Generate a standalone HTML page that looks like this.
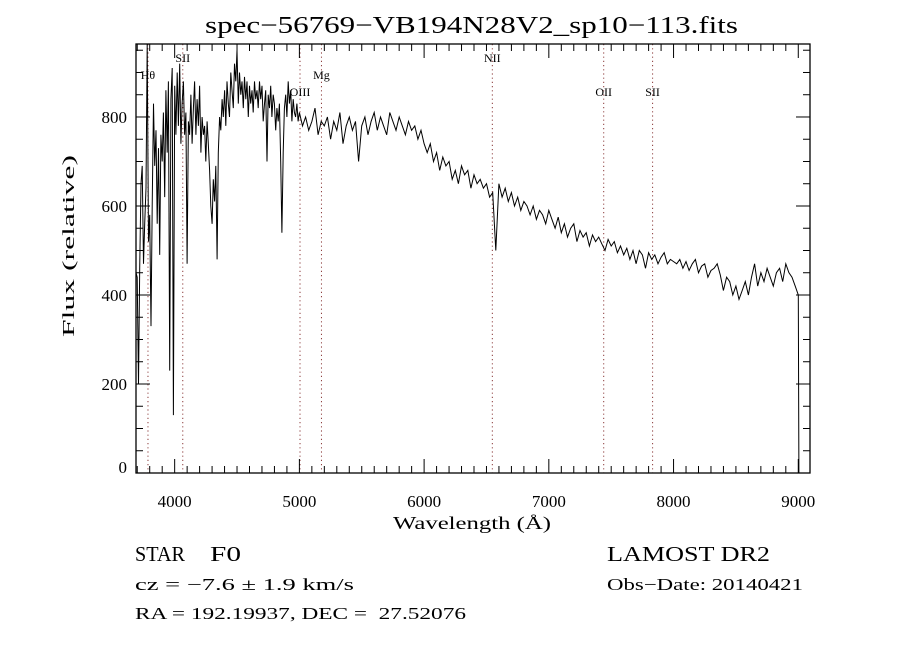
<!DOCTYPE html>
<html><head><meta charset="utf-8"><style>
html,body{margin:0;padding:0;background:#fff;}
svg{display:block;}
text{font-family:"Liberation Serif","DejaVu Serif",serif;fill:#000;}
</style></head><body>
<svg id="chart" width="900" height="650" viewBox="0 0 900 650" xmlns="http://www.w3.org/2000/svg">
<rect x="0" y="0" width="900" height="650" fill="#fff"/>
<text x="205" y="33" font-size="24" textLength="533" lengthAdjust="spacingAndGlyphs">spec−56769−VB194N28V2_sp10−113.fits</text>
<g id="lines"></g>
<g id="ticks"></g>
<path id="spec" fill="none" stroke="#000" stroke-width="1"/>
<rect x="136" y="44" width="674" height="429" fill="none" stroke="#000" stroke-width="1.3"/>
<text x="393" y="529" font-size="18" textLength="158" lengthAdjust="spacingAndGlyphs">Wavelength (Å)</text>
<text transform="translate(74,337) rotate(-90)" font-size="17" textLength="182" lengthAdjust="spacingAndGlyphs">Flux (relative)</text>
<text x="135" y="561" font-size="21" textLength="50" lengthAdjust="spacingAndGlyphs">STAR</text>
<text x="210" y="561" font-size="21" textLength="31" lengthAdjust="spacingAndGlyphs">F0</text>
<text x="607" y="561" font-size="21" textLength="163" lengthAdjust="spacingAndGlyphs">LAMOST DR2</text>
<text x="135" y="590" font-size="17" textLength="219" lengthAdjust="spacingAndGlyphs">cz = −7.6 ± 1.9 km/s</text>
<text x="607" y="590" font-size="17" textLength="196" lengthAdjust="spacingAndGlyphs">Obs−Date: 20140421</text>
<text x="135" y="619" font-size="17" textLength="331" lengthAdjust="spacingAndGlyphs">RA = 192.19937, DEC = &#160;27.52076</text>
</svg>
<script>
const blueStart = 3690, blueStep = 10;
const blueFlux = [450,440,200,460,650,690,470,560,640,990,520,580,330,600,830,690,770,560,730,490,760,700,810,620,860,720,880,230,840,910,130,870,760,900,780,920,740,830,880,760,810,470,790,760,850,740,820,880,760,840,780,870,720,800,760,780,700,790,740,680,600,560,660,610,690,480,720,800,770,840,800,860,780,880,830,800,900,860,820,920,880,950,830,900,850,880,820,890,840,880,800,870,830,860,810,880,840,860,820,880,840,870,790,830,860,700,850,820,870,800,850,830,770,820,790,830,700,540,720,820,850,800,880,830,860,790,840,810,800,830,790];
const redStart = 5000, redStep = 25;
const redFlux = [810,780,800,770,790,820,760,790,780,800,750,790,770,810,740,780,800,770,790,700,780,800,760,790,810,770,800,780,760,810,790,770,800,780,760,790,770,
780,750,770,740,720,740,700,720,680,710,690,700,660,680,650,690,670,680,640,670,650,660,640,650,620,630,
500,
650,620,640,610,630,600,620,590,610,600,580,600,570,590,580,560,590,
570,550,575,540,560,530,550,560,520,545,530,540,510,535,520,530,515,500,525,510,
520,495,510,490,505,480,500,470,500,490,460,495,480,490,470,485,495,470,480,475,
470,480,460,475,455,470,480,450,465,470,440,455,460,470,445,410,440,430,400,420,
390,410,430,400,440,470,420,450,430,460,440,420,450,460,430,470,450,440,420,400];
const tailWave = [9005];
const tailFlux = [0];
const xTicks = [4000,5000,6000,7000,8000,9000];
const yTicks = [0,200,400,600,800];
const lineNames = ["Hθ","SII","OIII","Mg","NII","OII","SII"];
const lineWaves = [3786,4065,5005,5177,6547,7440,7832];
const lineLabelRow = [1,0,2,1,0,2,2];

const X0=136,X1=810,Y0=473,Y1=44;
const W0=3690,W1=9094,F0=0,F1=964;
const sx = w => X0+(w-W0)/(W1-W0)*(X1-X0);
const sy = f => Y0-(Math.min(f,F1)-F0)/(F1-F0)*(Y0-Y1);
const NS="http://www.w3.org/2000/svg";

let pts=[];
blueFlux.forEach((f,i)=>pts.push([blueStart+i*blueStep,f]));
redFlux.forEach((f,i)=>pts.push([redStart+i*redStep,f]));
tailWave.forEach((w,i)=>pts.push([w,tailFlux[i]]));
document.getElementById('spec').setAttribute('d',pts.map((p,i)=>(i?'L':'M')+sx(p[0]).toFixed(1)+' '+sy(p[1]).toFixed(1)).join(' '));

const tg=document.getElementById('ticks');
function ln(g,x1,y1,x2,y2,name,extra){const l=document.createElementNS(NS,'line');
l.setAttribute('x1',x1);l.setAttribute('y1',y1);l.setAttribute('x2',x2);l.setAttribute('y2',y2);
l.setAttribute('stroke',extra||'#000');l.setAttribute('stroke-width',1);


g.appendChild(l);return l;}
function tx(g,x,y,s,anchor,size,name){const t=document.createElementNS(NS,'text');
t.setAttribute('x',x);t.setAttribute('y',y);t.setAttribute('text-anchor',anchor);t.setAttribute('font-size',size);
t.setAttribute('font-family','"Liberation Sans",sans-serif');t.textContent=s;


g.appendChild(t);return t;}
for(let w=3700;w<=9090;w+=100){const x=sx(w);const major=w%1000===0;const L=major?14:7;
ln(tg,x,Y0,x,Y0-L,'x-tick');ln(tg,x,Y1,x,Y1+L,'x-tick-top');}
xTicks.forEach(w=>tx(tg,sx(w),507,String(w),'middle',17,'x-tick-label'));
for(let f=0;f<=F1;f+=50){const y=sy(f);const major=f%200===0;const L=major?14:7;
ln(tg,X0,y,X0+L,y,'y-tick');ln(tg,X1,y,X1-L,y,'y-tick-right');}
yTicks.forEach(f=>tx(tg,127,sy(f)+(f===0?0:6),String(f),'end',17,'y-tick-label'));

const lg=document.getElementById('lines');
const rowY=[62,79,96];
lineWaves.forEach((w,i)=>{const x=sx(w);const l=ln(lg,x,Y1,x,Y0,'line-marker','#8b3a3a');
l.setAttribute('stroke-dasharray','1.2 3');
const t=tx(lg,x,rowY[lineLabelRow[i]],lineNames[i],'middle',12,'line-label');
t.setAttribute('font-family','"Liberation Serif",serif');});
</script>
</body></html>
